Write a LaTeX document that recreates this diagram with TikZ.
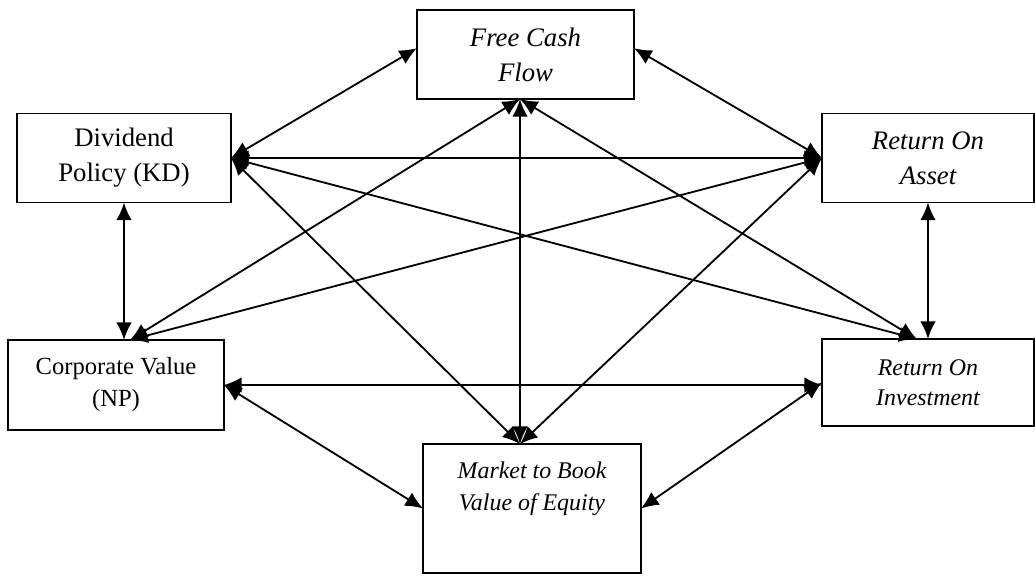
\documentclass[tikz,border=0pt]{standalone}
\usepackage{fontspec}
\setmainfont{Liberation Serif}
\usetikzlibrary{shapes,arrows.meta}

\begin{document}
\begin{tikzpicture}[x=0.025cm, y=-0.025cm,
    block/.style ={rectangle, draw=black, line width=1.1pt, fill=white,
      inner sep=0pt, outer sep=0pt, align=center},
    block_up/.style ={block, font=\fontsize{19}{25}\selectfont},
    block_up_small/.style ={block, font=\fontsize{17.5}{22.8}\selectfont},
    block_it/.style ={block, font=\fontsize{19}{25}\selectfont\itshape},
    block_it_small/.style ={block, font=\fontsize{17}{21.5}\selectfont\itshape},
    block_label/.style ={rectangle, draw=none, inner sep=0pt, align=center,
      font=\fontsize{17}{22.8}\selectfont\itshape},
    line/.style ={draw, line width=1.3pt,
      {Latex[length=12.5pt,width=11pt]}-{Latex[length=12.5pt,width=11pt]}}]
  \useasboundingbox (0,0) rectangle (1035,576);
  % the six boxes, placed at their centres
  \node [block_it, minimum width=5.425cm, minimum height=2.225cm] (fcf) at (525.5,54.5) {Free Cash\\Flow};
  \node [block_up, minimum width=5.35cm, minimum height=2.225cm] (div) at (124,158) {Dividend\\Policy (KD)};
  \node [block_it, minimum width=5.3cm, minimum height=2.225cm] (roa) at (928,158) {Return On\\Asset};
  \node [block_up_small, minimum width=5.4cm, minimum height=2.25cm] (cv) at (116,385) {Corporate Value\\(NP)};
  \node [block_it_small, minimum width=5.3cm, minimum height=2.175cm] (roi) at (928,382.5) {Return On\\Investment};
  \node [block, minimum width=5.45cm, minimum height=3.225cm] (mbv) at (532,508.5) {};
  \node [block_label, anchor=north] (mbvtext) at ([yshift=-12.4pt]mbv.north) {Market to Book\\Value of Equity};
  % meeting points of the arrows
  \coordinate (fcfbot) at ([xshift=-3.9pt]fcf.south);
  \coordinate (mbvtop) at ([xshift=-8.5pt]mbv.north);
  \coordinate (cvtop) at ([xshift=10pt]cv.north);
  \coordinate (roitop) at ([xshift=-8pt]roi.north);
  % connecting every pair of boxes
  \begin{scope}[every path/.style=line]
    % around the outside
    \path ([yshift=4.5pt]fcf.west) -- (div.east);
    \path ([yshift=4.5pt]fcf.east) -- (roa.west);
    \path (div.south) -- (div.south |- cv.north);
    \path (roa.south) -- (roi.north);
    \path (cv.east) -- (mbv.west);
    \path (roi.west) -- (mbv.east);
    % straight across
    \path (div.east) -- (roa.west);
    \path (cv.east) -- (cv.east -| roi.west);
    \path (fcfbot) -- (fcfbot |- mbv.north);
    % diagonals
    \path (fcfbot) -- (cvtop);
    \path (fcfbot) -- (roitop);
    \path (div.east) -- (mbvtop);
    \path (div.east) -- (roitop);
    \path (roa.west) -- (cvtop);
    \path (roa.west) -- (mbvtop);
  \end{scope}
\end{tikzpicture}
\end{document}
